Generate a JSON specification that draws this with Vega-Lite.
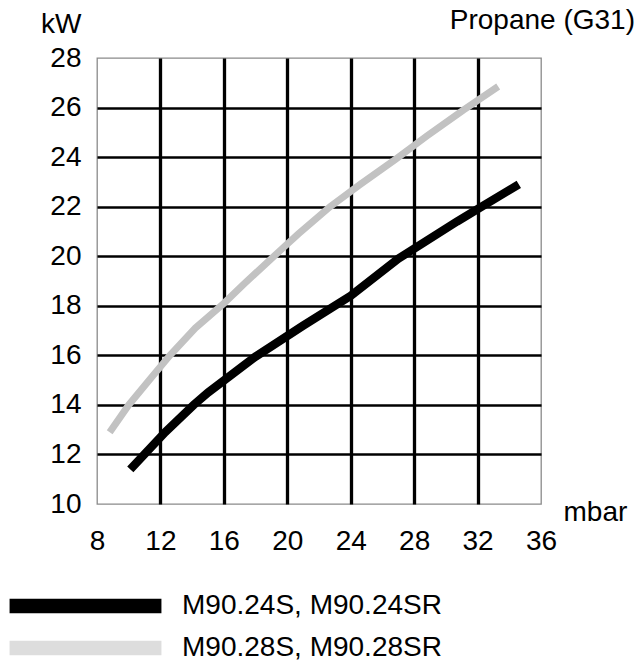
{
  "$schema": "https://vega.github.io/schema/vega-lite/v6.json",
  "autosize": {"type": "none"},
  "width": 444,
  "height": 446,
  "padding": {"left": 97, "top": 58, "right": 98, "bottom": 157},
  "background": "white",
  "title": {
    "text": "Propane (G31)",
    "anchor": "end",
    "frame": "group",
    "orient": "top",
    "baseline": "alphabetic",
    "offset": -47,
    "dx": 94,
    "font": "Liberation Sans",
    "fontSize": 28,
    "fontWeight": "normal",
    "color": "black"
  },
  "config": {
    "view": {"stroke": "#8a8a8a", "strokeWidth": 1.3},
    "font": "Liberation Sans",
    "axis": {
      "labelFont": "Liberation Sans",
      "labelFontSize": 28,
      "labelColor": "black",
      "titleFont": "Liberation Sans",
      "titleFontSize": 28,
      "titleFontWeight": "normal",
      "titleColor": "black",
      "ticks": false,
      "domain": false,
      "grid": true,
      "gridOpacity": 1
    }
  },
  "data": {
    "values": [
      {"series": "M90.24S, M90.24SR", "mbar": 10.1, "kW": 11.4},
      {"series": "M90.24S, M90.24SR", "mbar": 12.3, "kW": 12.9},
      {"series": "M90.24S, M90.24SR", "mbar": 14.1, "kW": 14.0},
      {"series": "M90.24S, M90.24SR", "mbar": 15.0, "kW": 14.5},
      {"series": "M90.24S, M90.24SR", "mbar": 18.0, "kW": 15.95},
      {"series": "M90.24S, M90.24SR", "mbar": 21.0, "kW": 17.2},
      {"series": "M90.24S, M90.24SR", "mbar": 24.0, "kW": 18.4},
      {"series": "M90.24S, M90.24SR", "mbar": 27.0, "kW": 19.9},
      {"series": "M90.24S, M90.24SR", "mbar": 30.7, "kW": 21.4},
      {"series": "M90.24S, M90.24SR", "mbar": 32.0, "kW": 21.9},
      {"series": "M90.24S, M90.24SR", "mbar": 34.6, "kW": 22.9},
      {"series": "M90.28S, M90.28SR", "mbar": 8.8, "kW": 12.9},
      {"series": "M90.28S, M90.28SR", "mbar": 10.0, "kW": 14.0},
      {"series": "M90.28S, M90.28SR", "mbar": 11.3, "kW": 15.0},
      {"series": "M90.28S, M90.28SR", "mbar": 12.6, "kW": 16.0},
      {"series": "M90.28S, M90.28SR", "mbar": 14.2, "kW": 17.1},
      {"series": "M90.28S, M90.28SR", "mbar": 16.0, "kW": 18.1},
      {"series": "M90.28S, M90.28SR", "mbar": 17.3, "kW": 18.9},
      {"series": "M90.28S, M90.28SR", "mbar": 19.5, "kW": 20.2},
      {"series": "M90.28S, M90.28SR", "mbar": 20.7, "kW": 20.9},
      {"series": "M90.28S, M90.28SR", "mbar": 22.7, "kW": 22.0},
      {"series": "M90.28S, M90.28SR", "mbar": 24.6, "kW": 22.9},
      {"series": "M90.28S, M90.28SR", "mbar": 26.8, "kW": 23.9},
      {"series": "M90.28S, M90.28SR", "mbar": 28.8, "kW": 24.85},
      {"series": "M90.28S, M90.28SR", "mbar": 31.1, "kW": 25.9},
      {"series": "M90.28S, M90.28SR", "mbar": 33.3, "kW": 26.85}
    ]
  },
  "encoding": {
    "x": {
      "field": "mbar",
      "type": "quantitative",
      "scale": {"domain": [8, 36], "nice": false, "zero": false},
      "axis": {
        "values": [8, 12, 16, 20, 24, 28, 32, 36],
        "title": "mbar",
        "titleX": 466,
        "titleY": 16,
        "titleAlign": "left",
        "titleBaseline": "alphabetic",
        "titleAnchor": null,
        "labelPadding": 23,
        "labelFlush": false,
        "gridWidth": 3.3,
        "gridColor": {"condition": {"test": "datum.value <= 8 || datum.value >= 36", "value": "transparent"}, "value": "black"}
      }
    },
    "y": {
      "field": "kW",
      "type": "quantitative",
      "scale": {"domain": [10, 28], "nice": false, "zero": false},
      "axis": {
        "values": [10, 12, 14, 16, 18, 20, 22, 24, 26, 28],
        "title": "kW",
        "titleAngle": 0,
        "titleX": -16,
        "titleY": -26,
        "titleAlign": "right",
        "titleBaseline": "alphabetic",
        "titleAnchor": null,
        "labelPadding": 16,
        "labelFlush": false,
        "gridWidth": 2.7,
        "gridColor": {"condition": {"test": "datum.value <= 10 || datum.value >= 28", "value": "transparent"}, "value": "black"}
      }
    },
    "color": {
      "field": "series",
      "type": "nominal",
      "scale": {"domain": ["M90.24S, M90.24SR", "M90.28S, M90.28SR"], "range": ["black", "#c2c2c2"]},
      "legend": {
        "orient": "none",
        "legendX": -25.5,
        "legendY": 534,
        "title": null,
        "padding": 0,
        "symbolType": "M-10.48,-1H10.48V1H-10.48Z",
        "symbolSize": 210,
        "symbolStrokeWidth": 0,
        "labelFont": "Liberation Sans",
        "labelFontSize": 28,
        "labelColor": "black",
        "labelLimit": 0,
        "labelOffset": 82.5,
        "rowPadding": 14,
        "encode": {
          "symbols": {"update": {
            "fill": {"signal": "datum.value === 'M90.24S, M90.24SR' ? '#000000' : '#dddddd'"},
            "fillOpacity": {"value": 1},
            "strokeWidth": {"value": 0}
          }}
        }
      }
    }
  },
  "layer": [
    {
      "transform": [{"filter": "datum.series === 'M90.28S, M90.28SR'"}],
      "mark": {"type": "line", "strokeCap": "butt", "strokeJoin": "miter", "strokeWidth": 7}
    },
    {
      "transform": [{"filter": "datum.series === 'M90.24S, M90.24SR'"}],
      "mark": {"type": "line", "strokeCap": "butt", "strokeJoin": "miter", "strokeWidth": 8.5}
    }
  ]
}
